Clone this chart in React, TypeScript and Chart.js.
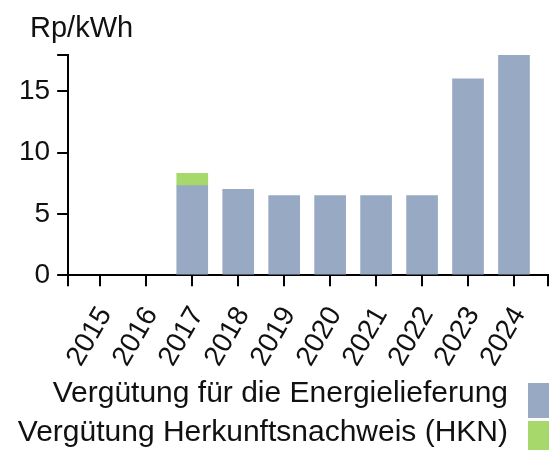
import { useEffect, useRef } from "react";
import { Chart, registerables } from "chart.js";

Chart.register(...registerables);

const years = ["2015", "2016", "2017", "2018", "2019", "2020", "2021", "2022", "2023", "2024"];
const energy = [0, 0, 7.3, 7.0, 6.5, 6.5, 6.5, 6.5, 16.0, 17.95];
const hkn = [0, 0, 1.0, 0, 0, 0, 0, 0, 0, 0];
const seriesLabels = ["Vergütung für die Energielieferung", "Vergütung Herkunftsnachweis (HKN)"];
const seriesColors = ["#97a9c3", "#a6d86b"];
const yTicks = [0, 5, 10, 15];
const unitLabel = "Rp/kWh";
const yMax = 17.95;
const xMin = -0.7;
const xMax = 9.74;

const FONT = 'Arial, "Liberation Sans", sans-serif';
const TEXT = "#111";

const textPlugin = {
  id: "texts",
  afterDraw(chart: any) {
    const ctx = chart.ctx;
    ctx.save();
    ctx.fillStyle = TEXT;
    ctx.font = `29px ${FONT}`;
    ctx.textAlign = "left";
    ctx.textBaseline = "alphabetic";
    ctx.fillText(unitLabel, 30, 37);
    ctx.font = `30px ${FONT}`;
    ctx.textAlign = "right";
    seriesLabels.forEach((l, i) => {
      ctx.fillStyle = TEXT;
      ctx.fillText(l, 508, 402 + 39 * i);
      ctx.fillStyle = seriesColors[i];
      ctx.fillRect(528, 383 + 38 * i, 40, 35);
    });
    ctx.restore();
  },
};

export default function App() {
  const ref = useRef<HTMLCanvasElement>(null);
  useEffect(() => {
    if (!ref.current) return;
    const series = [energy, hkn];
    const chart = new Chart(ref.current, {
      type: "bar",
      data: {
        datasets: series.map((vals, d) => ({
          label: seriesLabels[d],
          data: vals.map((v, i) => ({ x: i, y: v === 0 ? null : v })),
          backgroundColor: seriesColors[d],
          borderWidth: 0,
          barThickness: 31,
          stack: "s",
        })),
      },
      options: {
        animation: false,
        responsive: true,
        maintainAspectRatio: false,
        layout: { padding: { top: 55, left: 12, right: 1, bottom: 63 } },
        plugins: { legend: { display: false }, tooltip: { enabled: false }, title: { display: false } },
        scales: {
          x: {
            type: "linear",
            stacked: true,
            offset: false,
            min: xMin,
            max: xMax,
            afterBuildTicks: (s: any) => {
              s.ticks = [xMin, ...years.map((_, i) => i), xMax].map((v) => ({ value: v }));
            },
            afterFit: (s: any) => {
              s.paddingLeft = 0;
              s.paddingRight = 0;
            },
            ticks: {
              autoSkip: false,
              minRotation: 60,
              maxRotation: 60,
              padding: 15,
              labelOffset: 5,
              color: TEXT,
              font: { size: 28, family: FONT },
              callback: (v: any) => (Number.isInteger(v) && years[v] ? years[v] : ""),
            },
            grid: { offset: false, drawOnChartArea: false, drawTicks: true, tickLength: 11, color: "#000", lineWidth: 2 },
            border: { display: true, color: "#000", width: 2 },
          },
          y: {
            stacked: true,
            min: 0,
            max: yMax,
            afterBuildTicks: (s: any) => {
              s.ticks = [...yTicks, yMax].map((v) => ({ value: v }));
            },
            afterFit: (s: any) => {
              s.paddingTop = 0;
              s.paddingBottom = 0;
            },
            ticks: {
              padding: 7,
              color: TEXT,
              font: { size: 28, family: FONT },
              callback: (v: any) => (yTicks.includes(v) ? String(v) : ""),
            },
            grid: { drawOnChartArea: false, drawTicks: true, tickLength: 11, color: "#000", lineWidth: 2 },
            border: { display: true, color: "#000", width: 2 },
          },
        },
      },
      plugins: [textPlugin],
    });
    return () => chart.destroy();
  }, []);
  return (
    <div style={{ position: "absolute", left: 0, top: 0, width: 549, height: 450 }}>
      <canvas ref={ref} />
    </div>
  );
}
